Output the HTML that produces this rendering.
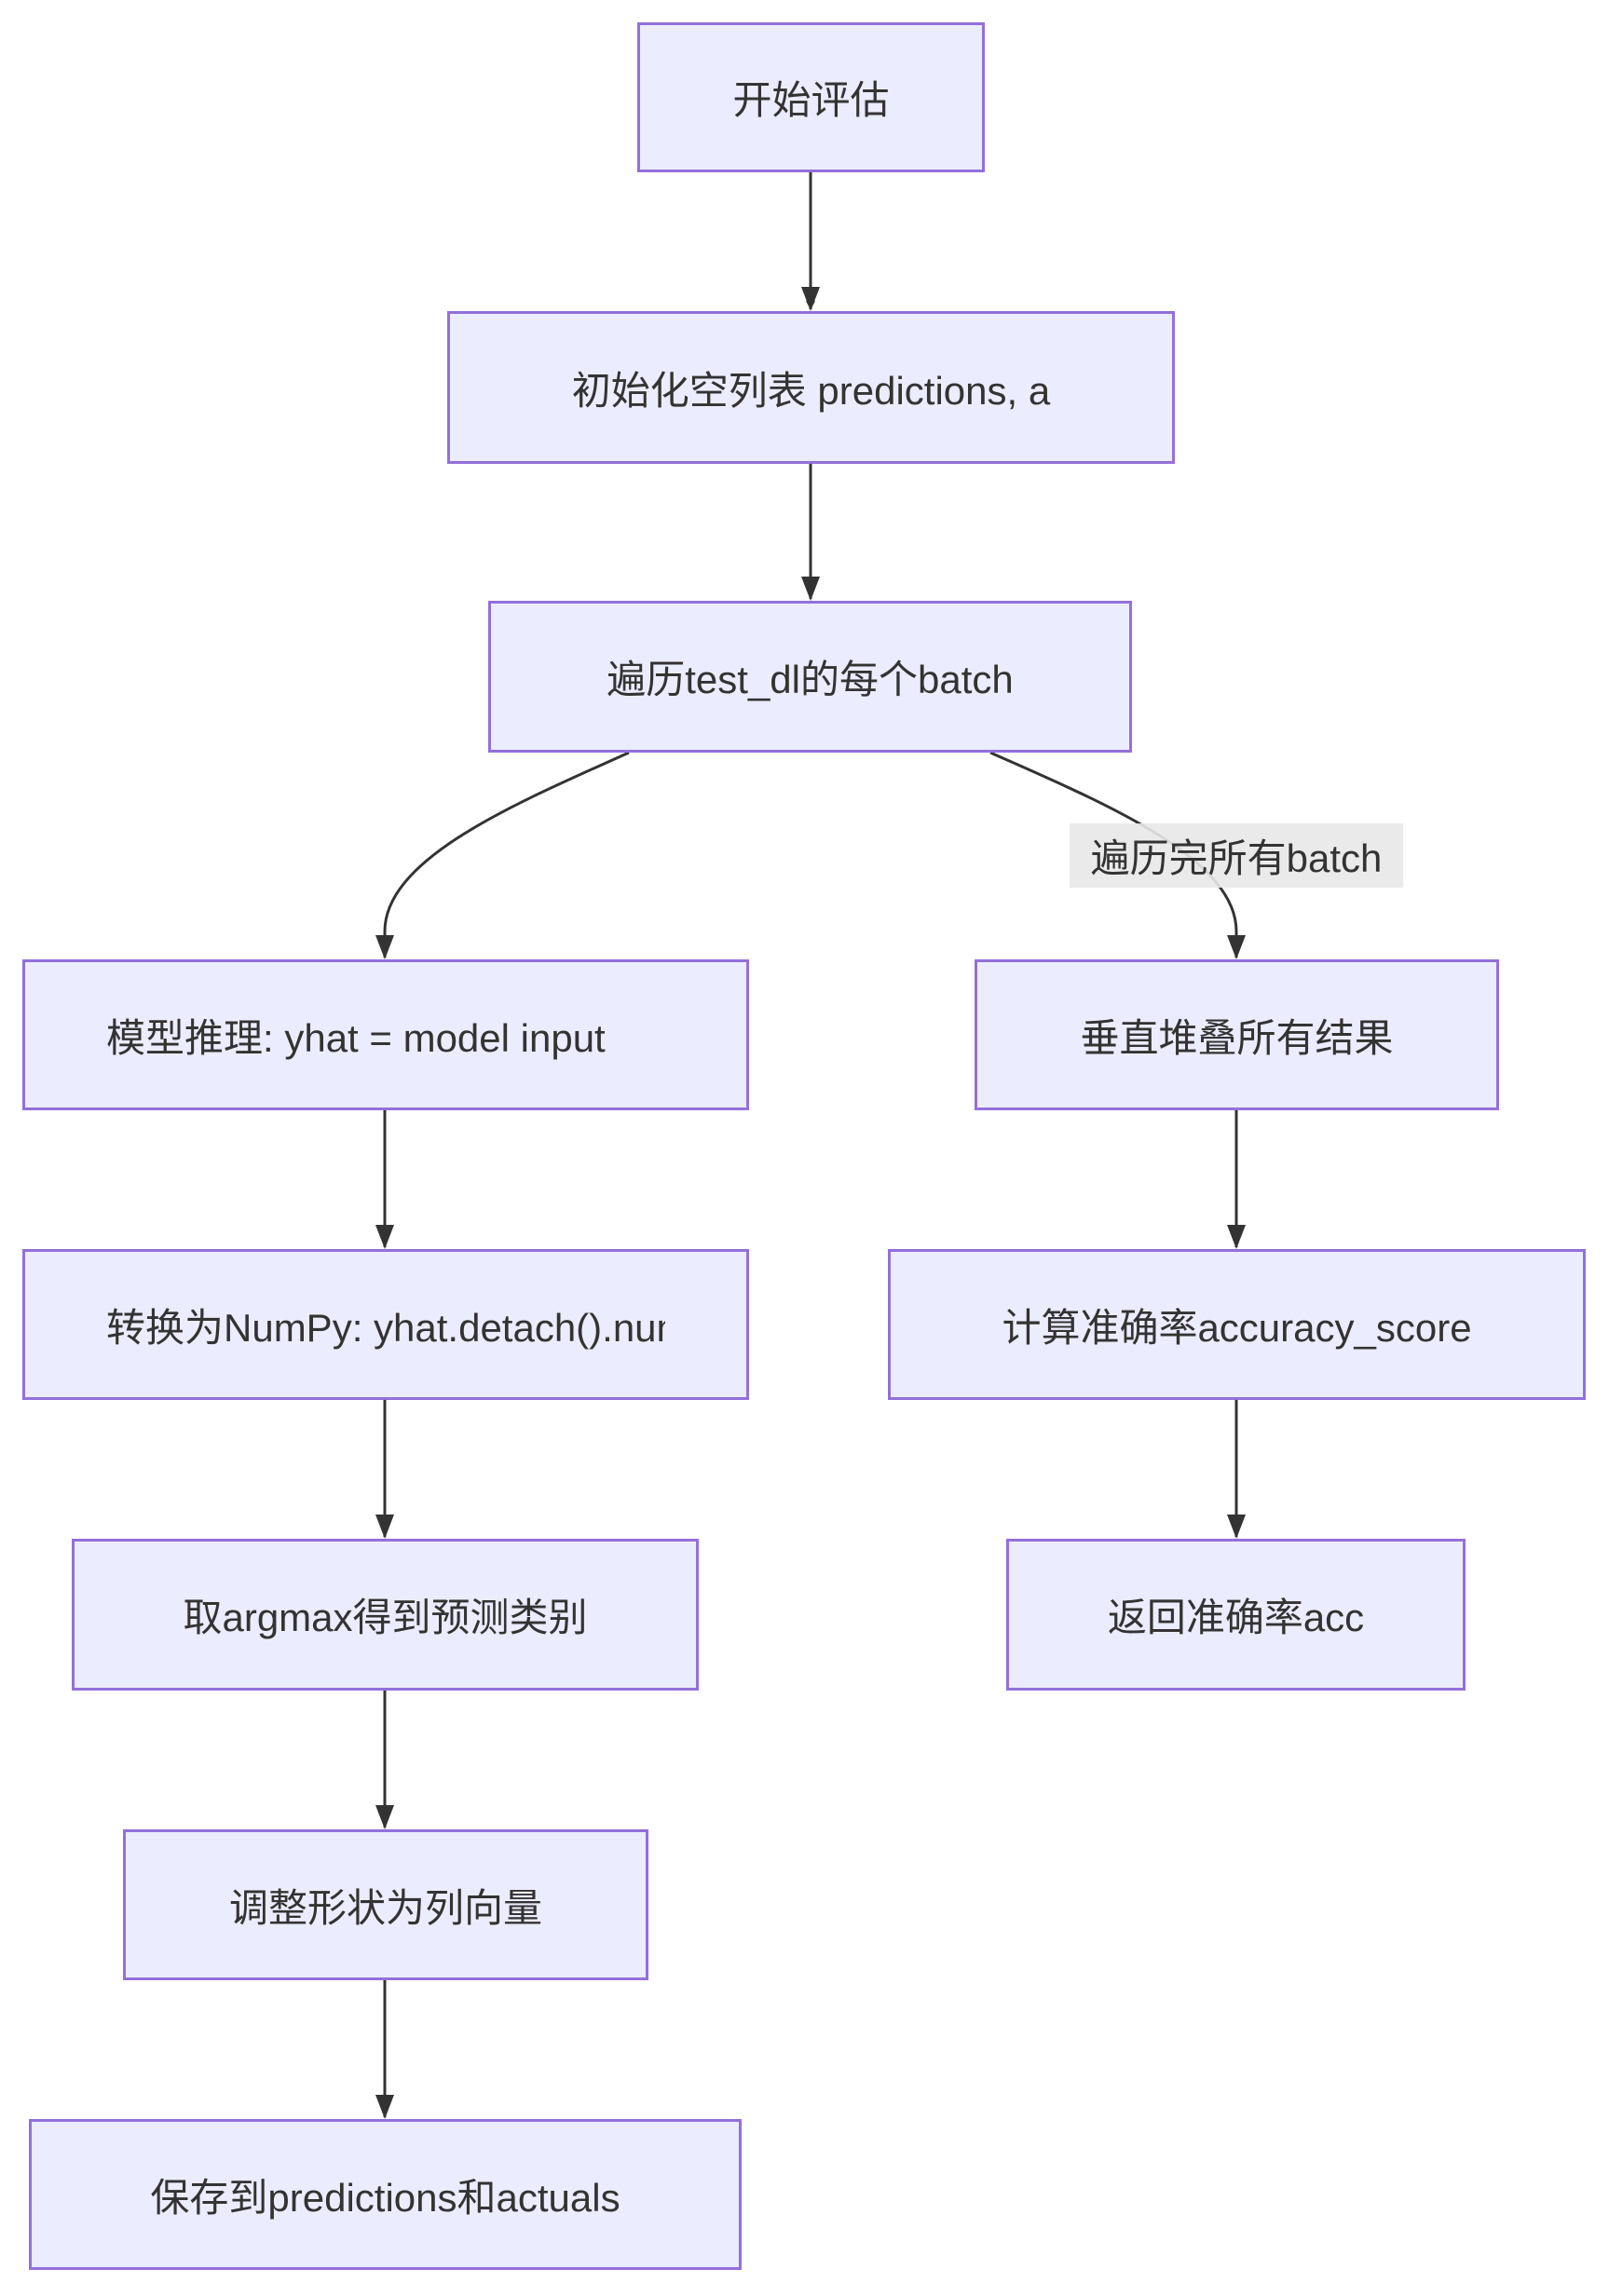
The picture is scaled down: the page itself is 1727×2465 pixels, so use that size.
<!DOCTYPE html>
<html><head><meta charset="utf-8">
<style>
body{margin:0;width:1727px;height:2465px;background:#fff;position:relative;overflow:hidden;font-family:"Liberation Sans","Noto Sans CJK SC",sans-serif;}
.b{position:absolute;box-sizing:border-box;background:#ECECFF;border:3px solid #9370DB;display:flex;align-items:center;justify-content:center;font-size:42px;color:#333;white-space:nowrap;}
.clip{width:600px;overflow:hidden;white-space:nowrap;text-align:left;}
svg{position:absolute;left:0;top:0;}
.lbl{position:absolute;background:rgba(232,232,232,0.9);font-size:42px;color:#333;display:flex;align-items:center;justify-content:center;white-space:nowrap;}
</style></head><body>
<svg width="1727" height="2465">
<defs><marker id="a" markerWidth="10" markerHeight="10" refX="9" refY="5" orient="auto" markerUnits="userSpaceOnUse" viewBox="0 0 10 10"><path d="M0,0 L10,5 L0,10 z" fill="#333"/></marker></defs>
<g stroke="#333" stroke-width="3" fill="none">
<path d="M870 185 V332" marker-end="url(#a)" transform=""/>
<path d="M870 498 V643"/>
<path d="M675 808 C560 860 413 920 413 1000 V1028"/>
<path d="M1063 808 C1180 860 1327 920 1327 1000 V1028"/>
<path d="M413 1192 V1339"/>
<path d="M1327 1192 V1339"/>
<path d="M413 1503 V1650"/>
<path d="M1327 1503 V1650"/>
<path d="M413 1815 V1962"/>
<path d="M413 2126 V2273"/>
</g>
<g fill="#333">
<path d="M860 308 L880 308 L870 334 z"/>
<path d="M860 619 L880 619 L870 645 z"/>
<path d="M403 1004 L423 1004 L413 1030 z"/>
<path d="M1317 1004 L1337 1004 L1327 1030 z"/>
<path d="M403 1315 L423 1315 L413 1341 z"/>
<path d="M1317 1315 L1337 1315 L1327 1341 z"/>
<path d="M403 1626 L423 1626 L413 1652 z"/>
<path d="M1317 1626 L1337 1626 L1327 1652 z"/>
<path d="M403 1938 L423 1938 L413 1964 z"/>
<path d="M403 2249 L423 2249 L413 2275 z"/>
</g>
</svg>
<div class="b" style="left:684px;top:24px;width:373px;height:161px">开始评估</div>
<div class="b" style="left:480px;top:334px;width:781px;height:164px">初始化空列表 predictions, a</div>
<div class="b" style="left:524px;top:645px;width:691px;height:163px">遍历test_dl的每个batch</div>
<div class="lbl" style="left:1148px;top:884px;width:358px;height:69px">遍历完所有batch</div>
<div class="b" style="left:24px;top:1030px;width:780px;height:162px"><div class="clip">模型推理: yhat = model input</div></div>
<div class="b" style="left:1046px;top:1030px;width:563px;height:162px">垂直堆叠所有结果</div>
<div class="b" style="left:24px;top:1341px;width:780px;height:162px"><div class="clip">转换为NumPy: yhat.detach().numpy()</div></div>
<div class="b" style="left:953px;top:1341px;width:749px;height:162px">计算准确率accuracy_score</div>
<div class="b" style="left:77px;top:1652px;width:673px;height:163px">取argmax得到预测类别</div>
<div class="b" style="left:1080px;top:1652px;width:493px;height:163px">返回准确率acc</div>
<div class="b" style="left:132px;top:1964px;width:564px;height:162px">调整形状为列向量</div>
<div class="b" style="left:31px;top:2275px;width:765px;height:162px">保存到predictions和actuals</div>
</body></html>
